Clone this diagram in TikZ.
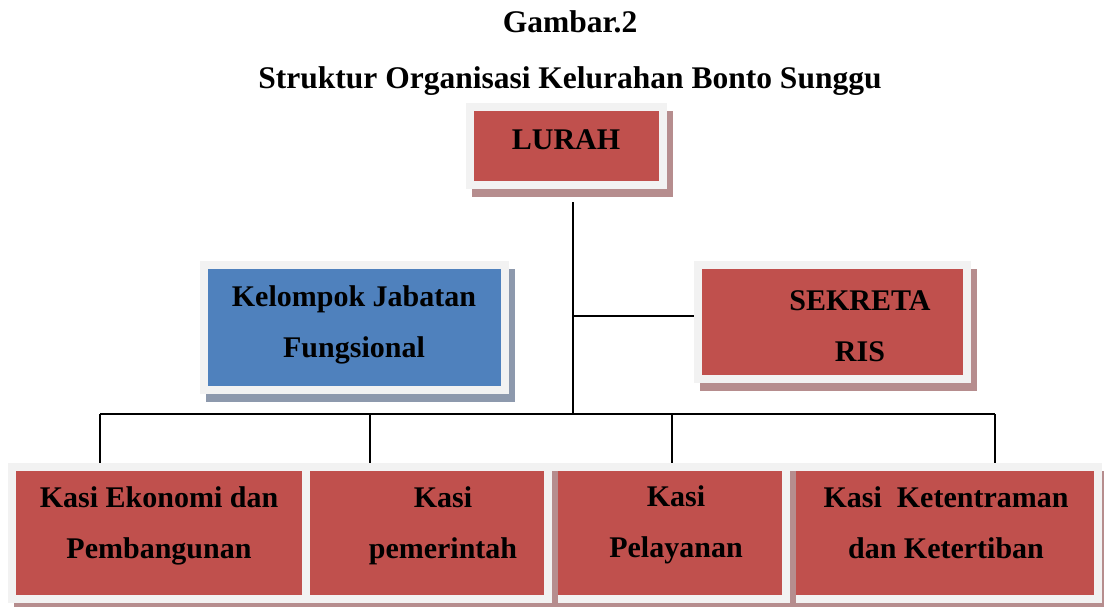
\documentclass[tikz,border=0pt]{standalone}
\usepackage{fontspec}
\setmainfont{Liberation Serif}
\usetikzlibrary{backgrounds}
\definecolor{boxred}{HTML}{C0504D}
\definecolor{boxblue}{HTML}{4F81BD}
\definecolor{rim}{HTML}{F2F2F2}
\definecolor{redshade}{HTML}{B68D8E}
\definecolor{blueshade}{HTML}{8D99AD}
\begin{document}
\begin{tikzpicture}[x=1pt, y=-1pt,
    unit/.style={draw=rim, line width=8pt, inner sep=0pt,
      preaction={draw=#1, fill=#1, line width=8pt, transform canvas={shift={(6pt,-8pt)}}}},
    redunit/.style={unit=redshade, fill=boxred},
    blueunit/.style={unit=blueshade, fill=boxblue},
    link/.style={draw=black, line width=2pt},
    caption/.style={font=\fontsize{31.5}{38}\selectfont\bfseries},
    boxtext/.style={font=\fontsize{30}{51}\selectfont\bfseries, align=center}]
    \useasboundingbox (0,0) rectangle (1104,606);
    \node[caption] (gambar) at (570,22) {Gambar.2};
    \node[caption] (judul) at (570,81) {Struktur Organisasi Kelurahan Bonto Sunggu};
    \node[redunit, minimum width=193pt, minimum height=78pt] (lurah) at (566.5,146) {};
    \node[blueunit, minimum width=301pt, minimum height=125pt] (fungsional) at (354.5,327.5) {};
    \node[redunit, minimum width=269pt, minimum height=114pt] (sekretaris) at (832.5,322) {};
    \node[redunit, minimum width=294pt, minimum height=132pt] (ekbang) at (159,533) {};
    \node[redunit, minimum width=306pt, minimum height=132pt] (trantib) at (945,533) {};
    \node[redunit, minimum width=232pt, minimum height=132pt] (pelayanan) at (670,533) {};
    \node[redunit, minimum width=242pt, minimum height=132pt] (pemerintahan) at (427,533) {};
    \node[boxtext] (lurahtext) at (566,140) {LURAH};
    \node[boxtext] (fungsionaltext) at (354,325) {Kelompok Jabatan\\Fungsional};
    \node[boxtext] (sekretaristext) at (860,326.5) {SEKRETA\\RIS};
    \node[boxtext] (ekbangtext) at (159,526) {Kasi Ekonomi dan\\Pembangunan};
    \node[boxtext] (pemerintahantext) at (443,526) {Kasi\\pemerintah};
    \node[boxtext] (pelayanantext) at (676,525) {Kasi\\Pelayanan};
    \node[boxtext] (trantibtext) at (946,522.5) {Kasi\ \ Ketentraman\\dan Ketertiban};
    \begin{scope}[on background layer]
        \coordinate (spine) at (573,202);
        \coordinate (hub) at (573,414);
        \coordinate (joint) at (573,316);
        \coordinate (busleft) at (100,414);
        \coordinate (busright) at (995,414);
        \draw[link] (spine) -- (hub);
        \draw[link] (joint) -- (joint -| sekretaris.west);
        \draw[link] (busleft) -- (busright);
        \foreach \name/\x in {ekbang/100, pemerintahan/370, pelayanan/672, trantib/995} {
            \coordinate (drop\name) at (\x,414);
            \draw[link] (drop\name) -- (drop\name |- \name.north);
        }
    \end{scope}
\end{tikzpicture}
\end{document}
